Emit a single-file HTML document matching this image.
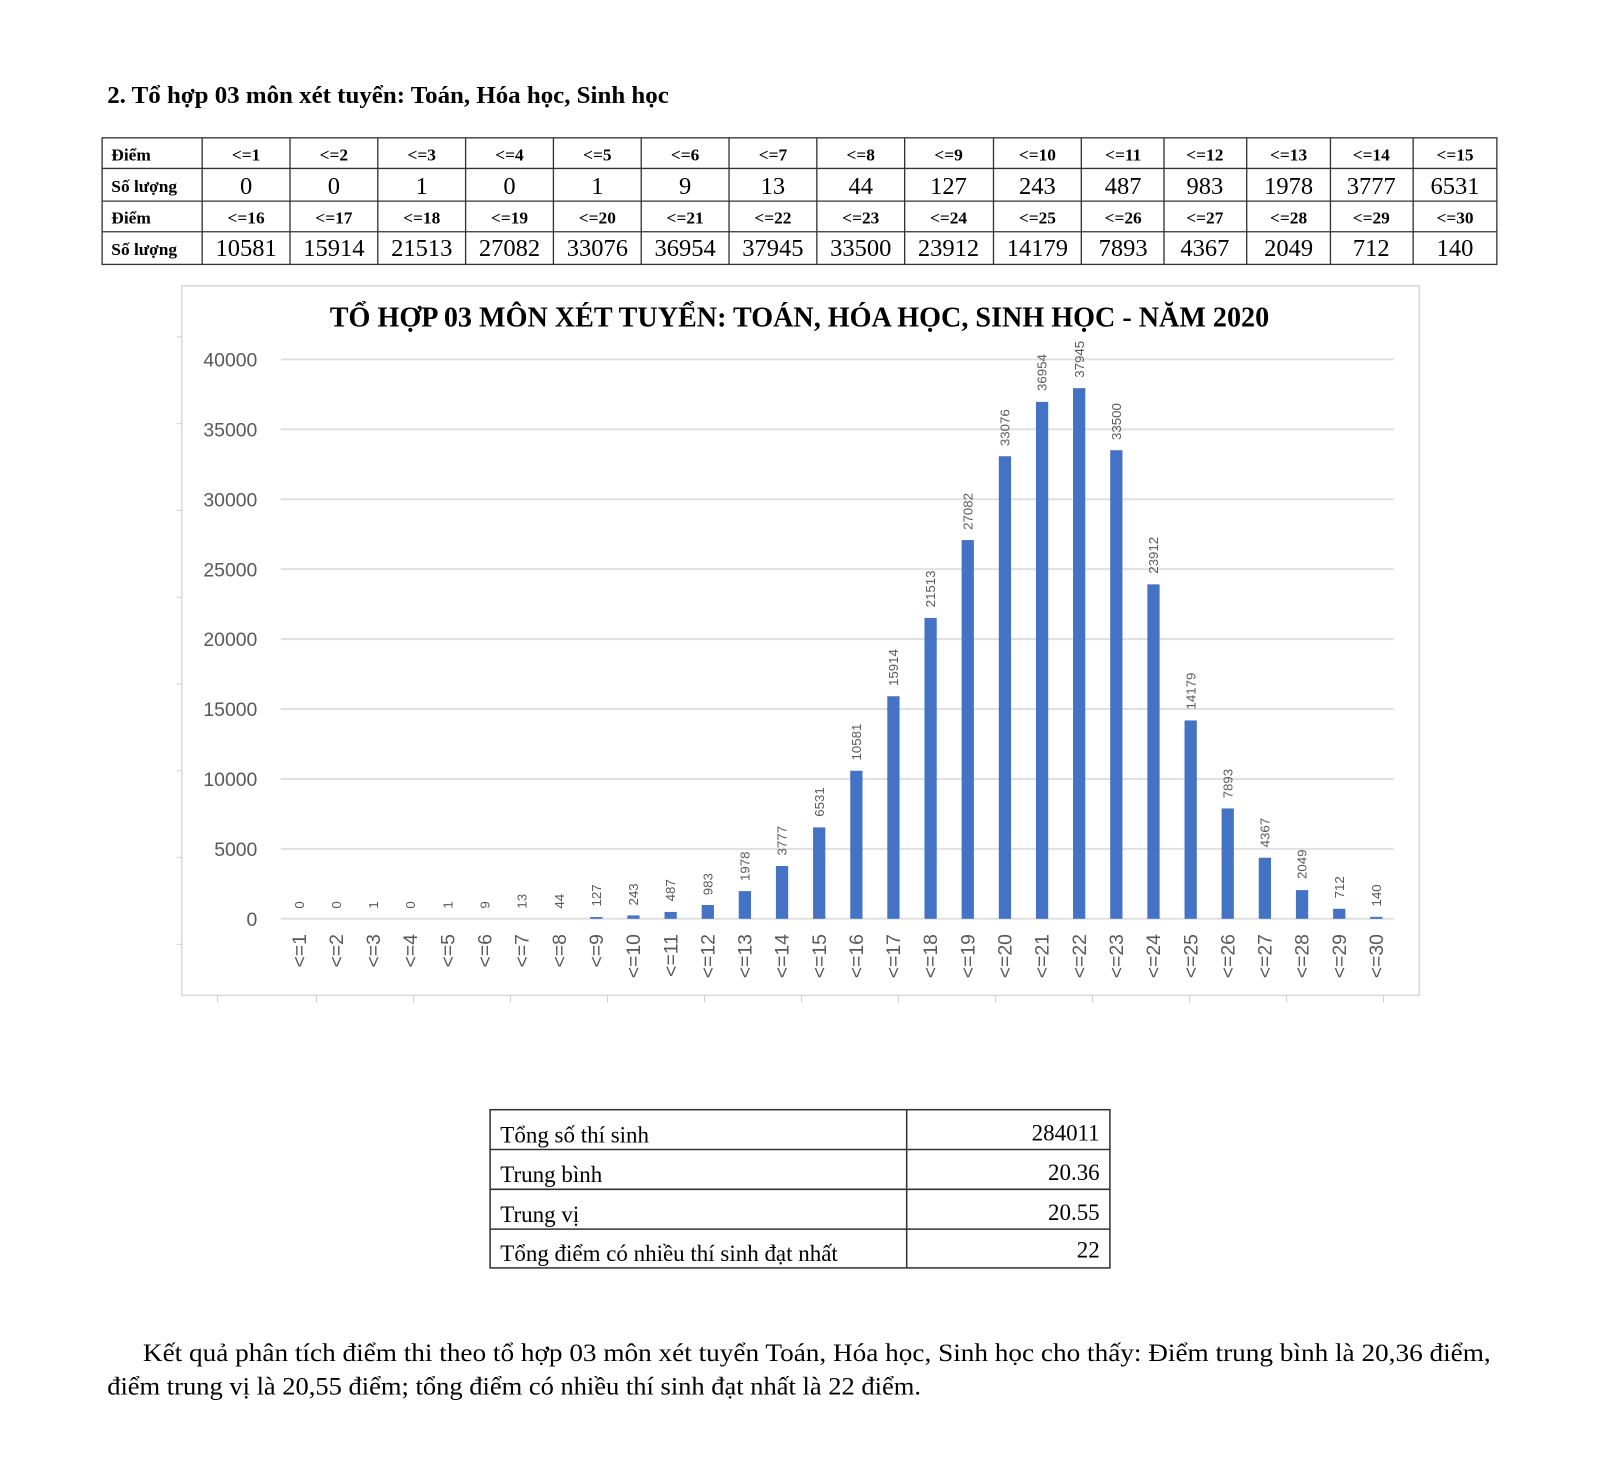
<!DOCTYPE html>
<html><head><meta charset="utf-8"><style>
html,body{margin:0;padding:0;background:#fff;width:1600px;height:1467px;overflow:hidden}
svg{display:block}
.s{font-family:"Liberation Serif",serif;fill:#000}
.b{font-weight:bold}
.a{font-family:"Liberation Sans","DejaVu Sans",sans-serif;fill:#595959}
</style></head><body>
<svg width="1600" height="1467" viewBox="0 0 1567 1437" preserveAspectRatio="none" xmlns="http://www.w3.org/2000/svg">
<text class="s b" x="105" y="101" font-size="24" textLength="550" lengthAdjust="spacingAndGlyphs">2. Tổ hợp 03 môn xét tuyển: Toán, Hóa học, Sinh học</text>
<g stroke="#333" stroke-width="1.3" fill="none">
<rect x="100" y="135" width="1366" height="124"/>
<line x1="100" y1="165" x2="1466" y2="165"/><line x1="100" y1="197" x2="1466" y2="197"/><line x1="100" y1="227" x2="1466" y2="227"/>
<line x1="198" y1="135" x2="198" y2="259"/><line x1="284" y1="135" x2="284" y2="259"/><line x1="370" y1="135" x2="370" y2="259"/><line x1="456" y1="135" x2="456" y2="259"/><line x1="542" y1="135" x2="542" y2="259"/><line x1="628" y1="135" x2="628" y2="259"/><line x1="714" y1="135" x2="714" y2="259"/><line x1="800" y1="135" x2="800" y2="259"/><line x1="886" y1="135" x2="886" y2="259"/><line x1="973" y1="135" x2="973" y2="259"/><line x1="1059" y1="135" x2="1059" y2="259"/><line x1="1140" y1="135" x2="1140" y2="259"/><line x1="1221" y1="135" x2="1221" y2="259"/><line x1="1303" y1="135" x2="1303" y2="259"/><line x1="1384" y1="135" x2="1384" y2="259"/>
</g>
<g class="s b" font-size="17">
<text x="109" y="157">Điểm</text><text x="109" y="188">Số lượng</text><text x="109" y="219">Điểm</text><text x="109" y="250">Số lượng</text>
</g>
<g class="s b" font-size="17" text-anchor="middle">
<text x="241" y="157">&lt;=1</text><text x="327" y="157">&lt;=2</text><text x="413" y="157">&lt;=3</text><text x="499" y="157">&lt;=4</text><text x="585" y="157">&lt;=5</text><text x="671" y="157">&lt;=6</text><text x="757" y="157">&lt;=7</text><text x="843" y="157">&lt;=8</text><text x="929" y="157">&lt;=9</text><text x="1016" y="157">&lt;=10</text><text x="1100" y="157">&lt;=11</text><text x="1180" y="157">&lt;=12</text><text x="1262" y="157">&lt;=13</text><text x="1343" y="157">&lt;=14</text><text x="1425" y="157">&lt;=15</text>
<text x="241" y="219">&lt;=16</text><text x="327" y="219">&lt;=17</text><text x="413" y="219">&lt;=18</text><text x="499" y="219">&lt;=19</text><text x="585" y="219">&lt;=20</text><text x="671" y="219">&lt;=21</text><text x="757" y="219">&lt;=22</text><text x="843" y="219">&lt;=23</text><text x="929" y="219">&lt;=24</text><text x="1016" y="219">&lt;=25</text><text x="1100" y="219">&lt;=26</text><text x="1180" y="219">&lt;=27</text><text x="1262" y="219">&lt;=28</text><text x="1343" y="219">&lt;=29</text><text x="1425" y="219">&lt;=30</text>
</g>
<g class="s" font-size="24" text-anchor="middle">
<text x="241" y="190">0</text><text x="327" y="190">0</text><text x="413" y="190">1</text><text x="499" y="190">0</text><text x="585" y="190">1</text><text x="671" y="190">9</text><text x="757" y="190">13</text><text x="843" y="190">44</text><text x="929" y="190">127</text><text x="1016" y="190">243</text><text x="1100" y="190">487</text><text x="1180" y="190">983</text><text x="1262" y="190">1978</text><text x="1343" y="190">3777</text><text x="1425" y="190">6531</text>
<text x="241" y="251">10581</text><text x="327" y="251">15914</text><text x="413" y="251">21513</text><text x="499" y="251">27082</text><text x="585" y="251">33076</text><text x="671" y="251">36954</text><text x="757" y="251">37945</text><text x="843" y="251">33500</text><text x="929" y="251">23912</text><text x="1016" y="251">14179</text><text x="1100" y="251">7893</text><text x="1180" y="251">4367</text><text x="1262" y="251">2049</text><text x="1343" y="251">712</text><text x="1425" y="251">140</text>
</g>
<rect x="178" y="280" width="1212" height="695" fill="#fff" stroke="#d9d9d9" stroke-width="1.5"/>
<g stroke="#d0d0d0" stroke-width="1">
<line x1="213" y1="975" x2="213" y2="982"/><line x1="310" y1="975" x2="310" y2="982"/><line x1="405" y1="975" x2="405" y2="982"/><line x1="500" y1="975" x2="500" y2="982"/><line x1="595" y1="975" x2="595" y2="982"/><line x1="690" y1="975" x2="690" y2="982"/><line x1="785" y1="975" x2="785" y2="982"/><line x1="880" y1="975" x2="880" y2="982"/><line x1="975" y1="975" x2="975" y2="982"/><line x1="1070" y1="975" x2="1070" y2="982"/><line x1="1165" y1="975" x2="1165" y2="982"/><line x1="1260" y1="975" x2="1260" y2="982"/><line x1="1355" y1="975" x2="1355" y2="982"/>
<line x1="173" y1="330" x2="178" y2="330"/><line x1="173" y1="415" x2="178" y2="415"/><line x1="173" y1="500" x2="178" y2="500"/><line x1="173" y1="585" x2="178" y2="585"/><line x1="173" y1="670" x2="178" y2="670"/><line x1="173" y1="755" x2="178" y2="755"/><line x1="173" y1="840" x2="178" y2="840"/><line x1="173" y1="925" x2="178" y2="925"/>
</g>
<text class="s b" x="783" y="320" font-size="27.5" text-anchor="middle" textLength="920" lengthAdjust="spacingAndGlyphs">TỔ HỢP 03 MÔN XÉT TUYỂN: TOÁN, HÓA HỌC, SINH HỌC - NĂM 2020</text>
<g stroke="#e0e0e0" stroke-width="2">
<line x1="275" y1="352" x2="1365" y2="352"/><line x1="275" y1="420.5" x2="1365" y2="420.5"/><line x1="275" y1="489" x2="1365" y2="489"/><line x1="275" y1="557.5" x2="1365" y2="557.5"/><line x1="275" y1="626" x2="1365" y2="626"/><line x1="275" y1="694.5" x2="1365" y2="694.5"/><line x1="275" y1="763" x2="1365" y2="763"/><line x1="275" y1="831.5" x2="1365" y2="831.5"/><line x1="275" y1="900" x2="1365" y2="900"/>
</g>
<g class="a" font-size="19" text-anchor="end">
<text x="252" y="359">40000</text><text x="252" y="427.5">35000</text><text x="252" y="496">30000</text><text x="252" y="564.5">25000</text><text x="252" y="633">20000</text><text x="252" y="701.5">15000</text><text x="252" y="770">10000</text><text x="252" y="838.5">5000</text><text x="252" y="907">0</text>
</g>
<g fill="#4472c4">
<rect x="578" y="898.3" width="12" height="1.7"/><rect x="614.4" y="896.7" width="12" height="3.3"/><rect x="650.8" y="893.3" width="12" height="6.7"/><rect x="687.2" y="886.5" width="12" height="13.5"/><rect x="723.5" y="872.9" width="12" height="27.1"/><rect x="759.9" y="848.3" width="12" height="51.7"/><rect x="796.3" y="810.5" width="12" height="89.5"/><rect x="832.7" y="755" width="12" height="145"/><rect x="869" y="682" width="12" height="218"/><rect x="905.4" y="605.3" width="12" height="294.7"/><rect x="941.8" y="529" width="12" height="371"/><rect x="978.2" y="446.9" width="12" height="453.1"/><rect x="1014.6" y="393.7" width="12" height="506.3"/><rect x="1050.9" y="380.2" width="12" height="519.8"/><rect x="1087.3" y="441" width="12" height="459"/><rect x="1123.7" y="572.4" width="12" height="327.6"/><rect x="1160.1" y="705.7" width="12" height="194.3"/><rect x="1196.4" y="791.9" width="12" height="108.1"/><rect x="1232.8" y="840.2" width="12" height="59.8"/><rect x="1269.2" y="871.9" width="12" height="28.1"/><rect x="1305.6" y="890.2" width="12" height="9.8"/><rect x="1341.9" y="898.1" width="12" height="1.9"/>
</g>
<g class="a" font-size="13">
<text transform="translate(297.5,890) rotate(-90)">0</text>
<text transform="translate(333.9,890) rotate(-90)">0</text>
<text transform="translate(370.3,890) rotate(-90)">1</text>
<text transform="translate(406.6,890) rotate(-90)">0</text>
<text transform="translate(443,890) rotate(-90)">1</text>
<text transform="translate(479.4,890) rotate(-90)">9</text>
<text transform="translate(515.8,890) rotate(-90)">13</text>
<text transform="translate(552.2,890) rotate(-90)">44</text>
<text transform="translate(588.5,888) rotate(-90)">127</text>
<text transform="translate(624.9,887) rotate(-90)">243</text>
<text transform="translate(661.3,883) rotate(-90)">487</text>
<text transform="translate(697.7,877) rotate(-90)">983</text>
<text transform="translate(734,863) rotate(-90)">1978</text>
<text transform="translate(770.4,838) rotate(-90)">3777</text>
<text transform="translate(806.8,800) rotate(-90)">6531</text>
<text transform="translate(843.2,745) rotate(-90)">10581</text>
<text transform="translate(879.5,672) rotate(-90)">15914</text>
<text transform="translate(915.9,595) rotate(-90)">21513</text>
<text transform="translate(952.3,519) rotate(-90)">27082</text>
<text transform="translate(988.7,437) rotate(-90)">33076</text>
<text transform="translate(1025.1,383) rotate(-90)">36954</text>
<text transform="translate(1061.4,370) rotate(-90)">37945</text>
<text transform="translate(1097.8,431) rotate(-90)">33500</text>
<text transform="translate(1134.2,562) rotate(-90)">23912</text>
<text transform="translate(1170.6,695) rotate(-90)">14179</text>
<text transform="translate(1206.9,782) rotate(-90)">7893</text>
<text transform="translate(1243.3,830) rotate(-90)">4367</text>
<text transform="translate(1279.7,861) rotate(-90)">2049</text>
<text transform="translate(1316.1,880) rotate(-90)">712</text>
<text transform="translate(1352.4,888) rotate(-90)">140</text>
</g>
<g class="a" font-size="19" text-anchor="end">
<text transform="translate(299.5,915) rotate(-90)">&lt;=1</text>
<text transform="translate(335.9,915) rotate(-90)">&lt;=2</text>
<text transform="translate(372.3,915) rotate(-90)">&lt;=3</text>
<text transform="translate(408.6,915) rotate(-90)">&lt;=4</text>
<text transform="translate(445,915) rotate(-90)">&lt;=5</text>
<text transform="translate(481.4,915) rotate(-90)">&lt;=6</text>
<text transform="translate(517.8,915) rotate(-90)">&lt;=7</text>
<text transform="translate(554.2,915) rotate(-90)">&lt;=8</text>
<text transform="translate(590.5,915) rotate(-90)">&lt;=9</text>
<text transform="translate(626.9,915) rotate(-90)">&lt;=10</text>
<text transform="translate(663.3,915) rotate(-90)">&lt;=11</text>
<text transform="translate(699.7,915) rotate(-90)">&lt;=12</text>
<text transform="translate(736,915) rotate(-90)">&lt;=13</text>
<text transform="translate(772.4,915) rotate(-90)">&lt;=14</text>
<text transform="translate(808.8,915) rotate(-90)">&lt;=15</text>
<text transform="translate(845.2,915) rotate(-90)">&lt;=16</text>
<text transform="translate(881.5,915) rotate(-90)">&lt;=17</text>
<text transform="translate(917.9,915) rotate(-90)">&lt;=18</text>
<text transform="translate(954.3,915) rotate(-90)">&lt;=19</text>
<text transform="translate(990.7,915) rotate(-90)">&lt;=20</text>
<text transform="translate(1027.1,915) rotate(-90)">&lt;=21</text>
<text transform="translate(1063.4,915) rotate(-90)">&lt;=22</text>
<text transform="translate(1099.8,915) rotate(-90)">&lt;=23</text>
<text transform="translate(1136.2,915) rotate(-90)">&lt;=24</text>
<text transform="translate(1172.6,915) rotate(-90)">&lt;=25</text>
<text transform="translate(1208.9,915) rotate(-90)">&lt;=26</text>
<text transform="translate(1245.3,915) rotate(-90)">&lt;=27</text>
<text transform="translate(1281.7,915) rotate(-90)">&lt;=28</text>
<text transform="translate(1318.1,915) rotate(-90)">&lt;=29</text>
<text transform="translate(1354.4,915) rotate(-90)">&lt;=30</text>
</g>
<g stroke="#333" stroke-width="1.5" fill="none">
<rect x="480" y="1087" width="607" height="155"/>
<line x1="480" y1="1126" x2="1087" y2="1126"/><line x1="480" y1="1165" x2="1087" y2="1165"/><line x1="480" y1="1204" x2="1087" y2="1204"/>
<line x1="888" y1="1087" x2="888" y2="1242"/>
</g>
<g class="s" font-size="22.5">
<text x="490" y="1119">Tổng số thí sinh</text><text x="490" y="1158">Trung bình</text><text x="490" y="1197">Trung vị</text><text x="490" y="1235">Tổng điểm có nhiều thí sinh đạt nhất</text>
</g>
<g class="s" font-size="22.5" text-anchor="end">
<text x="1077" y="1117">284011</text><text x="1077" y="1156">20.36</text><text x="1077" y="1195">20.55</text><text x="1077" y="1232">22</text>
</g>
<text class="s" x="140" y="1333" font-size="24.5" textLength="1320" lengthAdjust="spacingAndGlyphs">Kết quả phân tích điểm thi theo tổ hợp 03 môn xét tuyển Toán, Hóa học, Sinh học cho thấy: Điểm trung bình là 20,36 điểm,</text>
<text class="s" x="105" y="1366" font-size="24.5" textLength="797" lengthAdjust="spacingAndGlyphs">điểm trung vị là 20,55 điểm; tổng điểm có nhiều thí sinh đạt nhất là 22 điểm.</text>
</svg>
</body></html>
